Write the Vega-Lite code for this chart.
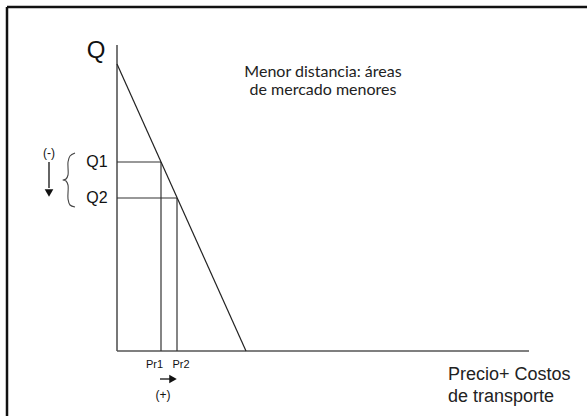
{
  "$schema": "https://vega.github.io/schema/vega-lite/v6.json",
  "width": 587,
  "height": 416,
  "autosize": "none",
  "padding": 0,
  "background": "white",
  "config": {"view": {"stroke": null}},
  "datasets": {
    "axes": [
      {"x": 0, "y": 0, "x2": 0, "y2": 306},
      {"x": 0, "y": 0, "x2": 412, "y2": 0}
    ],
    "guides": [
      {"x": 0, "y": 189, "x2": 44, "y2": 189},
      {"x": 44, "y": 189, "x2": 44, "y2": 0},
      {"x": 0, "y": 153, "x2": 60, "y2": 153},
      {"x": 60, "y": 153, "x2": 60, "y2": 0}
    ],
    "demand": [
      {"x": 0, "y": 287, "x2": 129, "y2": 0}
    ],
    "frame": [
      {"x": -110, "y": 344, "x2": 480, "y2": 344},
      {"x": -110, "y": 344, "x2": -110, "y2": -80}
    ],
    "arrows": [
      {"x": -68, "y": 189, "x2": -68, "y2": 163},
      {"x": 43, "y": -28, "x2": 53, "y2": -28}
    ],
    "heads": [
      {"x": -68, "y": 158, "shape": "triangle-down"},
      {"x": 56, "y": -28, "shape": "triangle-right"}
    ],
    "brace": [
      {"o": 1, "x": -42, "y": 198},
      {"o": 2, "x": -47, "y": 195},
      {"o": 3, "x": -49, "y": 189},
      {"o": 4, "x": -49, "y": 176},
      {"o": 5, "x": -51, "y": 172},
      {"o": 6, "x": -54, "y": 171},
      {"o": 7, "x": -51, "y": 170},
      {"o": 8, "x": -49, "y": 166},
      {"o": 9, "x": -49, "y": 152},
      {"o": 10, "x": -47, "y": 146},
      {"o": 11, "x": -42, "y": 144}
    ],
    "labels": [
      {"x": -21, "y": 300, "t": "Q", "s": 24},
      {"x": -20, "y": 189, "t": "Q1", "s": 16},
      {"x": -20, "y": 153, "t": "Q2", "s": 16},
      {"x": -68, "y": 198, "t": "(-)", "s": 12},
      {"x": 37.5, "y": -14, "t": "Pr1", "s": 11},
      {"x": 64, "y": -14, "t": "Pr2", "s": 11},
      {"x": 46, "y": -44, "t": "(+)", "s": 12}
    ]
  },
  "encoding": {
    "x": {"type": "quantitative", "scale": {"domain": [-117, 470], "nice": false, "zero": false}, "axis": null},
    "y": {"type": "quantitative", "scale": {"domain": [-65, 351], "nice": false, "zero": false}, "axis": null}
  },
  "layer": [
    {
      "data": {"name": "frame"},
      "mark": {"type": "rule", "color": "#111111", "strokeWidth": 2.5, "clip": false},
      "encoding": {"x": {"field": "x", "type": "quantitative"}, "y": {"field": "y", "type": "quantitative"}, "x2": {"field": "x2"}, "y2": {"field": "y2"}}
    },
    {
      "data": {"name": "axes"},
      "mark": {"type": "rule", "color": "#555555", "strokeWidth": 1.6},
      "encoding": {"x": {"field": "x", "type": "quantitative"}, "y": {"field": "y", "type": "quantitative"}, "x2": {"field": "x2"}, "y2": {"field": "y2"}}
    },
    {
      "data": {"name": "guides"},
      "mark": {"type": "rule", "color": "#333333", "strokeWidth": 1.2},
      "encoding": {"x": {"field": "x", "type": "quantitative"}, "y": {"field": "y", "type": "quantitative"}, "x2": {"field": "x2"}, "y2": {"field": "y2"}}
    },
    {
      "data": {"name": "demand"},
      "mark": {"type": "rule", "color": "#222222", "strokeWidth": 1.2},
      "encoding": {"x": {"field": "x", "type": "quantitative"}, "y": {"field": "y", "type": "quantitative"}, "x2": {"field": "x2"}, "y2": {"field": "y2"}}
    },
    {
      "data": {"name": "arrows"},
      "mark": {"type": "rule", "color": "#111111", "strokeWidth": 1.3},
      "encoding": {"x": {"field": "x", "type": "quantitative"}, "y": {"field": "y", "type": "quantitative"}, "x2": {"field": "x2"}, "y2": {"field": "y2"}}
    },
    {
      "data": {"name": "heads"},
      "mark": {"type": "point", "filled": true, "color": "#111111", "size": 75, "opacity": 1},
      "encoding": {"x": {"field": "x", "type": "quantitative"}, "y": {"field": "y", "type": "quantitative"}, "shape": {"field": "shape", "type": "nominal", "scale": null}}
    },
    {
      "data": {"name": "brace"},
      "mark": {"type": "line", "color": "#444444", "strokeWidth": 1.1, "interpolate": "catmull-rom"},
      "encoding": {"x": {"field": "x", "type": "quantitative"}, "y": {"field": "y", "type": "quantitative"}, "order": {"field": "o", "type": "quantitative"}}
    },
    {
      "data": {"name": "labels"},
      "mark": {"type": "text", "font": "Liberation Sans", "color": "#111111", "align": "center", "baseline": "middle"},
      "encoding": {"x": {"field": "x", "type": "quantitative"}, "y": {"field": "y", "type": "quantitative"}, "text": {"field": "t"}, "size": {"field": "s", "type": "quantitative", "scale": null}}
    },
    {
      "data": {"values": [{"x": 206, "y": 274, "t": ["Menor distancia: áreas", "de mercado menores"]}]},
      "mark": {"type": "text", "font": "Lato", "fontSize": 16, "color": "#222222", "align": "center", "baseline": "alphabetic", "lineHeight": 18},
      "encoding": {"x": {"field": "x", "type": "quantitative"}, "y": {"field": "y", "type": "quantitative"}, "text": {"field": "t"}}
    },
    {
      "data": {"values": [{"x": 331, "y": -29, "t": ["Precio+ Costos", "de transporte"]}]},
      "mark": {"type": "text", "font": "Liberation Sans", "fontSize": 18, "color": "#222222", "align": "left", "baseline": "alphabetic", "lineHeight": 22},
      "encoding": {"x": {"field": "x", "type": "quantitative"}, "y": {"field": "y", "type": "quantitative"}, "text": {"field": "t"}}
    }
  ]
}
